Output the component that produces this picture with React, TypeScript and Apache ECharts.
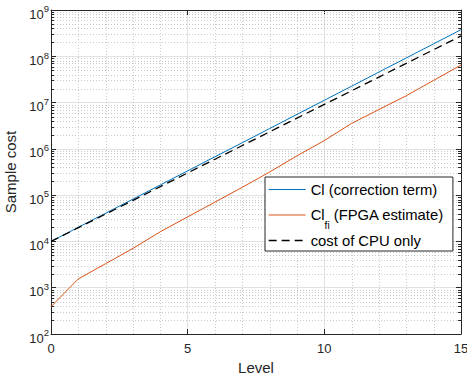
import React, { useEffect, useRef } from "react";
import * as echarts from "echarts";

const levels = [0, 1, 2, 3, 4, 5, 6, 7, 8, 9, 10, 11, 12, 13, 14, 15];
const clCorrection = [1.0e4, 2.02e4, 4.07e4, 8.22e4, 1.66e5, 3.35e5, 6.76e5, 1.36e6, 2.75e6, 5.56e6, 1.12e7, 2.26e7, 4.57e7, 9.23e7, 1.86e8, 3.76e8];
const clFpga = [389, 1550, 3310, 7080, 1.62e4, 3.39e4, 7.08e4, 1.48e5, 3.16e5, 7.08e5, 1.51e6, 3.55e6, 7.08e6, 1.41e7, 3.02e7, 6.46e7];
const cpuOnly = [1.0e4, 1.98e4, 3.91e4, 7.73e4, 1.53e5, 3.02e5, 5.97e5, 1.18e6, 2.33e6, 4.61e6, 9.12e6, 1.8e7, 3.56e7, 7.05e7, 1.39e8, 2.75e8];

const seriesNames = ["Cl (correction term)", "Cl_fi (FPGA estimate)", "cost of CPU only"];
const seriesColors = ["#0072BD", "#D95319", "#000000"];
const xMinorTicks = [1, 2, 3, 4, 6, 7, 8, 9, 11, 12, 13, 14];
const yDecades = [2, 3, 4, 5, 6, 7, 8];
const yMinorMultipliers = [2, 3, 4, 5, 6, 7, 8, 9];

const FONT = "'Liberation Sans', Arial, Helvetica, sans-serif";
const AXIS = "#262626";
const GRID_MAJOR = "#e2e2e2";
const GRID_MINOR = "#c9c9c9";
const DASH = [8, 5];

export default function App() {
  const ref = useRef<HTMLDivElement>(null);
  useEffect(() => {
    if (!ref.current) return;
    const chart = echarts.init(ref.current, undefined, { renderer: "svg" });
    const yMinor: number[][] = [];
    yDecades.forEach((d) => yMinorMultipliers.forEach((m) => yMinor.push([0, m * Math.pow(10, d)])));
    const xMinor = xMinorTicks.map((x) => [x, 1000]);

    const axisLine = { show: true, onZero: false, lineStyle: { color: AXIS, width: 1 } };
    const axisTick = { show: true, inside: true, length: 5, lineStyle: { color: AXIS, width: 1 } };

    chart.setOption({
      animation: false,
      grid: { left: 51, top: 10, right: 6, bottom: 46, containLabel: false, outerBoundsMode: "none" },
      xAxis: [
        {
          type: "value",
          min: 0,
          max: 15,
          interval: 5,
          position: "bottom",
          axisLine,
          axisTick,
          axisLabel: { color: AXIS, fontSize: 13, fontFamily: FONT, margin: 8 },
          splitLine: { show: true, lineStyle: { color: GRID_MAJOR, width: 1 } },
          name: "Level",
          nameLocation: "middle",
          nameGap: 26,
          nameTextStyle: { fontSize: 15, color: AXIS, fontFamily: FONT },
        },
        {
          type: "value",
          min: 0,
          max: 15,
          interval: 5,
          position: "top",
          axisLine,
          axisTick,
          axisLabel: { show: false },
          splitLine: { show: false },
        },
      ],
      yAxis: [
        {
          type: "log",
          logBase: 10,
          min: 100,
          max: 1e9,
          splitNumber: 7,
          position: "left",
          axisLine,
          axisTick,
          axisLabel: {
            margin: 2,
            formatter: (v: number) => `{a|10}{b|${Math.round(Math.log10(v))}}`,
            rich: {
              a: { fontSize: 13, fontFamily: FONT, color: AXIS, lineHeight: 14, padding: [8, 0, 0, 0] },
              b: { fontSize: 9.5, fontFamily: FONT, color: AXIS, lineHeight: 14, padding: [0, 0, 2.4, 0] },
            },
          },
          splitLine: { show: true, lineStyle: { color: GRID_MAJOR, width: 1 } },
          name: "Sample cost",
          nameLocation: "middle",
          nameGap: 24,
          nameTextStyle: { fontSize: 15, color: AXIS, fontFamily: FONT },
        },
        {
          type: "log",
          logBase: 10,
          min: 100,
          max: 1e9,
          splitNumber: 7,
          position: "right",
          axisLine,
          axisTick,
          axisLabel: { show: false },
          splitLine: { show: false },
        },
      ],
      legend: {
        orient: "vertical",
        left: 265,
        top: 177,
        itemWidth: 37,
        itemHeight: 14,
        itemGap: 2,
        padding: [4, 9, 2, 3],
        borderColor: AXIS,
        borderWidth: 1,
        backgroundColor: "#ffffff",
        selectedMode: false,
        itemStyle: { opacity: 0 },
        data: [
          { name: seriesNames[0], lineStyle: { color: seriesColors[0], width: 1, type: "solid" } },
          { name: seriesNames[1], lineStyle: { color: seriesColors[1], width: 1, type: "solid" } },
          { name: seriesNames[2], lineStyle: { color: seriesColors[2], width: 1.3, type: DASH } },
        ],
        formatter: (n: string) => (n === seriesNames[1] ? "Cl{s|fi} (FPGA estimate)" : n),
        textStyle: {
          fontSize: 14.8,
          fontFamily: FONT,
          color: "#000",
          lineHeight: 17,
          rich: {
            s: { fontSize: 10, fontFamily: FONT, color: "#000", lineHeight: 17, padding: [20, 0, 0, 0] },
          },
        },
      },
      series: [
        {
          type: "custom",
          silent: true,
          z: 1,
          xAxisIndex: 0,
          yAxisIndex: 0,
          data: yMinor,
          encode: { x: 0, y: 1 },
          renderItem: (params: any, api: any) => {
            const v = api.value(1);
            const p0 = api.coord([0, v]);
            const p1 = api.coord([15, v]);
            const y = Math.round(p0[1]) + 0.5;
            return {
              type: "group",
              children: [
                { type: "line", shape: { x1: p0[0], y1: y, x2: p1[0], y2: y }, style: { stroke: GRID_MINOR, lineWidth: 1, lineDash: [1, 2] } },
                { type: "line", shape: { x1: p0[0], y1: y, x2: p0[0] + 3, y2: y }, style: { stroke: AXIS, lineWidth: 1 } },
                { type: "line", shape: { x1: p1[0] - 3, y1: y, x2: p1[0], y2: y }, style: { stroke: AXIS, lineWidth: 1 } },
              ],
            };
          },
        },
        {
          type: "custom",
          silent: true,
          z: 1,
          xAxisIndex: 0,
          yAxisIndex: 0,
          data: xMinor,
          encode: { x: 0, y: 1 },
          renderItem: (params: any, api: any) => {
            const x = api.value(0);
            const p0 = api.coord([x, 100]);
            const p1 = api.coord([x, 1e9]);
            const px = Math.round(p0[0]) + 0.5;
            return {
              type: "line",
              shape: { x1: px, y1: p0[1], x2: px, y2: p1[1] },
              style: { stroke: GRID_MINOR, lineWidth: 1, lineDash: [1, 2] },
            };
          },
        },
        {
          name: seriesNames[0],
          type: "line",
          z: 5,
          symbol: "none",
          data: levels.map((l, i) => [l, clCorrection[i]]),
          lineStyle: { color: seriesColors[0], width: 1 },
          itemStyle: { color: seriesColors[0] },
        },
        {
          name: seriesNames[1],
          type: "line",
          z: 5,
          symbol: "none",
          data: levels.map((l, i) => [l, clFpga[i]]),
          lineStyle: { color: seriesColors[1], width: 1 },
          itemStyle: { color: seriesColors[1] },
        },
        {
          name: seriesNames[2],
          type: "line",
          z: 6,
          symbol: "none",
          data: levels.map((l, i) => [l, cpuOnly[i]]),
          lineStyle: { color: seriesColors[2], width: 1.3, type: DASH },
          itemStyle: { color: seriesColors[2] },
        },
      ],
    });
    return () => chart.dispose();
  }, []);
  return <div ref={ref} style={{ position: "absolute", left: 0, top: 0, width: 467, height: 380 }} />;
}
